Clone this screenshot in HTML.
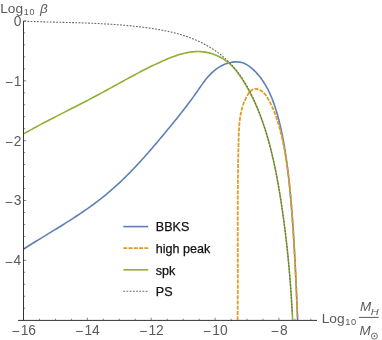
<!DOCTYPE html>
<html><head><meta charset="utf-8"><style>
html,body{margin:0;padding:0;background:#fff;}
svg{display:block;will-change:transform;opacity:0.999;}
text{font-family:"Liberation Sans",sans-serif;}
</style></head><body>
<svg width="382" height="340" viewBox="0 0 382 340">
<rect width="382" height="340" fill="#fff"/>
<g fill="none" stroke-linejoin="round">
<path d="M23.64,249.02 L25.22,248.02 L26.80,247.01 L28.39,246.02 L29.98,245.02 L31.57,244.03 L33.17,243.03 L34.77,242.04 L36.38,241.05 L37.98,240.07 L39.59,239.08 L41.20,238.09 L42.82,237.11 L44.43,236.12 L46.05,235.14 L47.66,234.15 L49.28,233.16 L50.90,232.17 L52.52,231.18 L54.14,230.19 L55.75,229.20 L57.37,228.21 L58.99,227.21 L60.60,226.21 L62.22,225.20 L63.83,224.20 L65.44,223.19 L67.05,222.18 L68.65,221.16 L70.25,220.14 L71.85,219.11 L73.45,218.08 L75.04,217.04 L76.63,216.00 L78.22,214.96 L79.80,213.90 L81.37,212.85 L82.94,211.78 L84.51,210.71 L86.07,209.63 L87.62,208.54 L89.17,207.45 L90.71,206.35 L92.25,205.24 L93.78,204.12 L95.30,203.00 L96.81,201.86 L98.32,200.72 L99.82,199.56 L101.31,198.40 L102.79,197.23 L104.26,196.04 L105.73,194.85 L107.18,193.65 L108.63,192.43 L110.06,191.21 L111.49,189.97 L112.91,188.73 L114.32,187.47 L115.73,186.21 L117.12,184.94 L118.51,183.66 L119.89,182.37 L121.26,181.07 L122.62,179.76 L123.98,178.45 L125.33,177.12 L126.67,175.79 L128.01,174.46 L129.34,173.11 L130.66,171.76 L131.98,170.40 L133.29,169.04 L134.59,167.67 L135.89,166.29 L137.18,164.91 L138.47,163.52 L139.75,162.13 L141.03,160.73 L142.30,159.33 L143.57,157.92 L144.83,156.51 L146.09,155.09 L147.34,153.67 L148.59,152.25 L149.83,150.82 L151.07,149.39 L152.31,147.95 L153.54,146.51 L154.77,145.07 L156.00,143.63 L157.22,142.18 L158.44,140.74 L159.66,139.29 L160.87,137.84 L162.09,136.38 L163.29,134.93 L164.50,133.48 L165.71,132.02 L166.91,130.56 L168.11,129.11 L169.31,127.65 L170.51,126.19 L171.70,124.73 L172.89,123.27 L174.08,121.81 L175.27,120.35 L176.45,118.88 L177.63,117.41 L178.81,115.93 L179.98,114.46 L181.15,112.98 L182.32,111.49 L183.48,110.01 L184.64,108.51 L185.79,107.01 L186.94,105.51 L188.08,104.00 L189.22,102.49 L190.35,100.97 L191.48,99.44 L192.60,97.90 L193.71,96.36 L194.82,94.81 L195.92,93.26 L197.02,91.69 L198.11,90.12 L199.20,88.54 L200.29,86.97 L201.39,85.40 L202.50,83.85 L203.63,82.30 L204.77,80.78 L205.95,79.28 L207.15,77.81 L208.39,76.38 L209.66,74.98 L210.98,73.62 L212.34,72.31 L213.75,71.05 L215.23,69.84 L216.76,68.70 L218.35,67.62 L220.00,66.61 L221.70,65.68 L223.45,64.83 L225.23,64.08 L227.04,63.42 L228.86,62.87 L230.70,62.43 L232.55,62.11 L234.39,61.92 L236.23,61.85 L238.04,61.93 L239.84,62.15 L241.60,62.53 L243.32,63.07 L244.99,63.76 L246.63,64.60 L248.21,65.56 L249.76,66.63 L251.25,67.81 L252.70,69.06 L254.10,70.38 L255.46,71.76 L256.77,73.16 L258.03,74.60 L259.25,76.07 L260.42,77.57 L261.55,79.09 L262.64,80.64 L263.69,82.21 L264.70,83.81 L265.67,85.43 L266.61,87.07 L267.51,88.73 L268.37,90.41 L269.21,92.11 L270.01,93.83 L270.78,95.56 L271.52,97.31 L272.24,99.07 L272.92,100.84 L273.58,102.63 L274.22,104.43 L274.83,106.23 L275.43,108.05 L276.00,109.87 L276.55,111.70 L277.08,113.53 L277.60,115.37 L278.10,117.21 L278.59,119.05 L279.06,120.90 L279.52,122.74 L279.97,124.59 L280.40,126.44 L280.83,128.29 L281.24,130.14 L281.64,131.99 L282.02,133.84 L282.40,135.70 L282.77,137.55 L283.12,139.41 L283.47,141.27 L283.80,143.13 L284.13,144.99 L284.44,146.85 L284.75,148.71 L285.05,150.57 L285.34,152.43 L285.63,154.30 L285.90,156.16 L286.17,158.03 L286.43,159.90 L286.69,161.77 L286.94,163.64 L287.18,165.51 L287.42,167.38 L287.65,169.25 L287.87,171.12 L288.10,173.00 L288.31,174.87 L288.53,176.75 L288.74,178.62 L288.94,180.50 L289.14,182.38 L289.34,184.26 L289.54,186.14 L289.73,188.02 L289.92,189.90 L290.10,191.78 L290.28,193.66 L290.46,195.54 L290.63,197.43 L290.81,199.31 L290.97,201.20 L291.14,203.08 L291.30,204.97 L291.46,206.85 L291.62,208.74 L291.77,210.63 L291.92,212.52 L292.07,214.40 L292.21,216.29 L292.35,218.18 L292.49,220.07 L292.63,221.96 L292.77,223.85 L292.90,225.74 L293.03,227.63 L293.16,229.52 L293.28,231.42 L293.41,233.31 L293.53,235.20 L293.65,237.09 L293.76,238.98 L293.88,240.88 L293.99,242.77 L294.10,244.66 L294.21,246.55 L294.32,248.45 L294.42,250.34 L294.53,252.23 L294.63,254.13 L294.73,256.02 L294.83,257.91 L294.93,259.81 L295.03,261.70 L295.12,263.59 L295.22,265.49 L295.31,267.38 L295.40,269.27 L295.49,271.16 L295.58,273.06 L295.67,274.95 L295.76,276.84 L295.85,278.73 L295.93,280.63 L296.02,282.52 L296.10,284.41 L296.19,286.30 L296.27,288.19 L296.35,290.08 L296.43,291.97 L296.52,293.86 L296.60,295.75 L296.68,297.64 L296.76,299.53 L296.84,301.41 L296.92,303.30 L297.00,305.19 L297.08,307.07 L297.16,308.96 L297.24,310.85 L297.32,312.73 L297.40,314.61 L297.49,316.50 L297.57,318.38 L297.65,320.26" stroke="#5E81B5" stroke-width="1.6"/>
<path d="M237.57,320.33 L237.58,319.37 L237.59,318.41 L237.60,317.46 L237.61,316.50 L237.62,315.54 L237.63,314.59 L237.64,313.63 L237.65,312.67 L237.66,311.72 L237.66,310.76 L237.67,309.81 L237.68,308.85 L237.69,307.90 L237.69,306.94 L237.70,305.99 L237.71,305.03 L237.71,304.08 L237.72,303.12 L237.72,302.17 L237.73,301.21 L237.73,300.26 L237.74,299.30 L237.74,298.35 L237.75,297.40 L237.75,296.44 L237.76,295.49 L237.76,294.53 L237.76,293.58 L237.77,292.63 L237.77,291.67 L237.77,290.72 L237.77,289.77 L237.78,288.81 L237.78,287.86 L237.78,286.91 L237.78,285.96 L237.78,285.00 L237.79,284.05 L237.79,283.10 L237.79,282.15 L237.79,281.19 L237.79,280.24 L237.79,279.29 L237.79,278.34 L237.79,277.38 L237.79,276.43 L237.79,275.48 L237.79,274.53 L237.79,273.58 L237.79,272.63 L237.79,271.67 L237.79,270.72 L237.79,269.77 L237.79,268.82 L237.79,267.87 L237.79,266.92 L237.79,265.97 L237.79,265.01 L237.79,264.06 L237.79,263.11 L237.78,262.16 L237.78,261.21 L237.78,260.26 L237.78,259.31 L237.78,258.36 L237.78,257.41 L237.78,256.46 L237.77,255.51 L237.77,254.55 L237.77,253.60 L237.77,252.65 L237.77,251.70 L237.77,250.75 L237.76,249.80 L237.76,248.85 L237.76,247.90 L237.76,246.95 L237.76,246.00 L237.76,245.05 L237.75,244.10 L237.75,243.15 L237.75,242.20 L237.75,241.25 L237.75,240.30 L237.75,239.35 L237.74,238.40 L237.74,237.45 L237.74,236.50 L237.74,235.55 L237.74,234.60 L237.74,233.65 L237.74,232.70 L237.74,231.75 L237.73,230.80 L237.73,229.85 L237.73,228.89 L237.73,227.94 L237.73,226.99 L237.73,226.04 L237.73,225.09 L237.73,224.14 L237.73,223.19 L237.73,222.24 L237.73,221.29 L237.73,220.34 L237.73,219.39 L237.73,218.44 L237.73,217.49 L237.73,216.54 L237.73,215.59 L237.73,214.64 L237.73,213.69 L237.74,212.74 L237.74,211.79 L237.74,210.84 L237.74,209.89 L237.74,208.94 L237.74,207.99 L237.75,207.03 L237.75,206.08 L237.75,205.13 L237.75,204.18 L237.76,203.23 L237.76,202.28 L237.76,201.33 L237.77,200.38 L237.77,199.43 L237.77,198.48 L237.78,197.52 L237.78,196.57 L237.79,195.62 L237.79,194.67 L237.80,193.72 L237.80,192.77 L237.81,191.82 L237.82,190.86 L237.82,189.91 L237.83,188.96 L237.84,188.01 L237.84,187.06 L237.85,186.10 L237.86,185.15 L237.87,184.20 L237.87,183.25 L237.88,182.29 L237.89,181.34 L237.90,180.39 L237.91,179.44 L237.92,178.48 L237.93,177.53 L237.94,176.58 L237.95,175.63 L237.96,174.67 L237.97,173.72 L237.98,172.77 L238.00,171.81 L238.01,170.86 L238.02,169.91 L238.04,168.95 L238.05,168.00 L238.06,167.04 L238.08,166.09 L238.09,165.14 L238.11,164.18 L238.12,163.23 L238.14,162.27 L238.15,161.32 L238.17,160.36 L238.19,159.41 L238.20,158.45 L238.22,157.50 L238.24,156.54 L238.26,155.59 L238.28,154.63 L238.30,153.68 L238.32,152.72 L238.34,151.76 L238.36,150.81 L238.38,149.85 L238.40,148.90 L238.42,147.94 L238.45,146.98 L238.47,146.03 L238.49,145.07 L238.52,144.11 L238.54,143.16 L238.56,142.20 L238.59,141.24 L238.62,140.28 L238.64,139.33 L238.67,138.37 L238.70,137.41 L238.73,136.45 L238.75,135.49 L238.79,134.54 L238.82,133.58 L238.86,132.62 L238.90,131.66 L238.94,130.71 L238.99,129.75 L239.04,128.80 L239.09,127.84 L239.15,126.89 L239.22,125.94 L239.29,124.99 L239.37,124.04 L239.46,123.09 L239.55,122.14 L239.65,121.20 L239.76,120.25 L239.87,119.31 L240.00,118.37 L240.13,117.43 L240.28,116.49 L240.43,115.56 L240.60,114.63 L240.77,113.70 L240.96,112.77 L241.16,111.85 L241.37,110.92 L241.59,110.00 L241.83,109.09 L242.08,108.17 L242.34,107.26 L242.62,106.36 L242.91,105.45 L243.22,104.55 L243.54,103.65 L243.88,102.76 L244.24,101.87 L244.61,100.98 L245.00,100.10 L245.40,99.22 L245.83,98.34 L246.27,97.47 L246.73,96.60 L247.21,95.74 L247.72,94.89 L248.24,94.06 L248.78,93.25 L249.35,92.48 L249.95,91.76 L250.58,91.10 L251.23,90.50 L251.91,89.97 L252.63,89.53 L253.38,89.19 L254.17,88.94 L254.99,88.81 L255.85,88.80 L256.74,88.91 L257.65,89.12 L258.56,89.43 L259.47,89.82 L260.34,90.28 L261.18,90.80 L261.98,91.36 L262.73,91.97 L263.45,92.62 L264.13,93.30 L264.77,94.02 L265.38,94.77 L265.97,95.55 L266.53,96.35 L267.06,97.17 L267.58,98.00 L268.08,98.85 L268.56,99.70 L269.03,100.56 L269.49,101.43 L269.94,102.29 L270.39,103.16 L270.82,104.03 L271.24,104.90 L271.66,105.78 L272.07,106.66 L272.46,107.54 L272.85,108.42 L273.24,109.30 L273.61,110.18 L273.98,111.07 L274.34,111.96 L274.69,112.85 L275.03,113.74 L275.37,114.64 L275.70,115.53 L276.02,116.43 L276.34,117.33 L276.65,118.23 L276.95,119.13 L277.25,120.04 L277.54,120.94 L277.82,121.85 L278.10,122.76 L278.38,123.67 L278.65,124.58 L278.91,125.49 L279.17,126.40 L279.42,127.32 L279.67,128.23 L279.91,129.15 L280.15,130.07 L280.39,130.99 L280.62,131.91 L280.85,132.83 L281.07,133.75 L281.29,134.67 L281.51,135.59 L281.72,136.52 L281.93,137.44 L282.14,138.37 L282.35,139.29 L282.55,140.22 L282.75,141.15 L282.95,142.07 L283.14,143.00 L283.33,143.93 L283.52,144.86 L283.71,145.79 L283.89,146.72 L284.07,147.65 L284.25,148.58 L284.43,149.52 L284.60,150.45 L284.77,151.38 L284.94,152.32 L285.11,153.25 L285.27,154.19 L285.44,155.12 L285.60,156.06 L285.75,156.99 L285.91,157.93 L286.06,158.87 L286.21,159.81 L286.36,160.75 L286.51,161.68 L286.65,162.62 L286.80,163.56 L286.94,164.50 L287.08,165.44 L287.21,166.38 L287.35,167.33 L287.48,168.27 L287.61,169.21 L287.74,170.15 L287.87,171.10 L287.99,172.04 L288.11,172.98 L288.24,173.93 L288.36,174.87 L288.47,175.82 L288.59,176.76 L288.70,177.71 L288.82,178.65 L288.93,179.60 L289.04,180.54 L289.15,181.49 L289.25,182.44 L289.36,183.38 L289.46,184.33 L289.56,185.28 L289.66,186.23 L289.76,187.18 L289.86,188.12 L289.96,189.07 L290.05,190.02 L290.14,190.97 L290.24,191.92 L290.33,192.87 L290.42,193.82 L290.50,194.77 L290.59,195.72 L290.68,196.67 L290.76,197.62 L290.85,198.57 L290.93,199.52 L291.01,200.47 L291.09,201.42 L291.17,202.37 L291.25,203.32 L291.32,204.28 L291.40,205.23 L291.48,206.18 L291.55,207.13 L291.62,208.08 L291.70,209.03 L291.77,209.99 L291.84,210.94 L291.91,211.89 L291.98,212.84 L292.05,213.79 L292.12,214.75 L292.18,215.70 L292.25,216.65 L292.32,217.60 L292.38,218.55 L292.45,219.51 L292.51,220.46 L292.58,221.41 L292.64,222.36 L292.70,223.31 L292.77,224.27 L292.83,225.22 L292.89,226.17 L292.95,227.12 L293.01,228.07 L293.07,229.02 L293.13,229.97 L293.19,230.93 L293.25,231.88 L293.31,232.83 L293.37,233.78 L293.43,234.73 L293.49,235.68 L293.55,236.63 L293.61,237.58 L293.66,238.53 L293.72,239.48 L293.78,240.43 L293.84,241.38 L293.89,242.33 L293.95,243.28 L294.01,244.23 L294.06,245.18 L294.12,246.13 L294.17,247.08 L294.23,248.03 L294.29,248.98 L294.34,249.93 L294.39,250.88 L294.45,251.83 L294.50,252.78 L294.56,253.73 L294.61,254.68 L294.66,255.63 L294.72,256.58 L294.77,257.53 L294.82,258.48 L294.87,259.43 L294.93,260.38 L294.98,261.33 L295.03,262.28 L295.08,263.22 L295.13,264.17 L295.18,265.12 L295.23,266.07 L295.28,267.02 L295.33,267.97 L295.38,268.92 L295.43,269.87 L295.48,270.82 L295.53,271.77 L295.58,272.72 L295.62,273.67 L295.67,274.62 L295.72,275.57 L295.77,276.52 L295.81,277.47 L295.86,278.42 L295.90,279.37 L295.95,280.32 L296.00,281.27 L296.04,282.22 L296.09,283.17 L296.13,284.12 L296.17,285.07 L296.22,286.02 L296.26,286.97 L296.30,287.93 L296.35,288.88 L296.39,289.83 L296.43,290.78 L296.47,291.73 L296.51,292.68 L296.56,293.63 L296.60,294.59 L296.64,295.54 L296.68,296.49 L296.72,297.44 L296.76,298.40 L296.80,299.35 L296.83,300.30 L296.87,301.25 L296.91,302.21 L296.95,303.16 L296.99,304.11 L297.02,305.07 L297.06,306.02 L297.10,306.98 L297.13,307.93 L297.17,308.88 L297.20,309.84 L297.24,310.79 L297.27,311.75 L297.31,312.70 L297.34,313.66 L297.37,314.61 L297.41,315.57 L297.44,316.53" stroke="#E19C24" stroke-width="1.8" stroke-dasharray="4.0,1.25"/>
<path d="M23.57,133.90 L24.99,133.09 L26.42,132.28 L27.86,131.48 L29.29,130.67 L30.74,129.87 L32.18,129.08 L33.63,128.29 L35.09,127.50 L36.54,126.71 L38.00,125.92 L39.47,125.14 L40.93,124.36 L42.40,123.58 L43.87,122.81 L45.35,122.03 L46.82,121.26 L48.30,120.49 L49.78,119.72 L51.26,118.96 L52.74,118.19 L54.23,117.43 L55.72,116.66 L57.20,115.90 L58.69,115.14 L60.18,114.38 L61.67,113.62 L63.16,112.86 L64.65,112.10 L66.15,111.34 L67.64,110.58 L69.13,109.82 L70.62,109.06 L72.11,108.30 L73.60,107.54 L75.09,106.78 L76.58,106.02 L78.07,105.26 L79.56,104.50 L81.05,103.74 L82.53,102.97 L84.02,102.21 L85.50,101.44 L86.98,100.67 L88.46,99.90 L89.94,99.13 L91.41,98.36 L92.88,97.58 L94.35,96.80 L95.82,96.02 L97.28,95.24 L98.74,94.46 L100.20,93.67 L101.66,92.88 L103.11,92.09 L104.56,91.30 L106.01,90.51 L107.46,89.72 L108.91,88.92 L110.35,88.13 L111.80,87.33 L113.24,86.53 L114.69,85.74 L116.13,84.94 L117.57,84.14 L119.02,83.35 L120.46,82.55 L121.91,81.76 L123.35,80.96 L124.80,80.17 L126.25,79.38 L127.69,78.59 L129.15,77.80 L130.60,77.01 L132.05,76.23 L133.51,75.45 L134.97,74.67 L136.44,73.89 L137.90,73.12 L139.37,72.35 L140.85,71.58 L142.32,70.82 L143.80,70.06 L145.29,69.30 L146.78,68.55 L148.27,67.81 L149.77,67.06 L151.28,66.32 L152.78,65.59 L154.30,64.86 L155.82,64.14 L157.35,63.42 L158.88,62.71 L160.42,62.01 L161.96,61.31 L163.52,60.62 L165.07,59.94 L166.64,59.27 L168.21,58.61 L169.78,57.98 L171.36,57.36 L172.94,56.76 L174.53,56.18 L176.12,55.63 L177.72,55.10 L179.31,54.60 L180.92,54.14 L182.52,53.70 L184.13,53.30 L185.74,52.94 L187.35,52.61 L188.96,52.32 L190.57,52.08 L192.19,51.88 L193.81,51.72 L195.42,51.62 L197.04,51.56 L198.66,51.56 L200.27,51.61 L201.89,51.72 L203.50,51.88 L205.11,52.11 L206.72,52.39 L208.33,52.73 L209.92,53.13 L211.51,53.59 L213.08,54.10 L214.64,54.67 L216.19,55.29 L217.71,55.96 L219.21,56.69 L220.69,57.46 L222.14,58.28 L223.56,59.16 L224.96,60.08 L226.32,61.04 L227.64,62.06 L228.93,63.11 L230.18,64.21 L231.39,65.36 L232.56,66.54 L233.70,67.76 L234.80,69.01 L235.86,70.29 L236.90,71.60 L237.91,72.94 L238.89,74.30 L239.85,75.67 L240.79,77.06 L241.71,78.47 L242.61,79.88 L243.50,81.30 L244.37,82.73 L245.23,84.16 L246.08,85.61 L246.91,87.05 L247.73,88.50 L248.53,89.96 L249.32,91.43 L250.10,92.90 L250.87,94.37 L251.62,95.85 L252.36,97.34 L253.09,98.83 L253.80,100.33 L254.50,101.83 L255.20,103.34 L255.87,104.85 L256.54,106.37 L257.20,107.89 L257.84,109.42 L258.47,110.95 L259.10,112.49 L259.71,114.03 L260.31,115.57 L260.90,117.12 L261.48,118.67 L262.05,120.23 L262.61,121.79 L263.16,123.36 L263.70,124.93 L264.23,126.50 L264.75,128.08 L265.26,129.65 L265.76,131.24 L266.25,132.82 L266.74,134.41 L267.21,136.01 L267.68,137.60 L268.14,139.20 L268.59,140.80 L269.03,142.41 L269.47,144.02 L269.89,145.63 L270.31,147.24 L270.72,148.85 L271.13,150.47 L271.53,152.09 L271.92,153.71 L272.30,155.33 L272.68,156.96 L273.05,158.58 L273.42,160.21 L273.78,161.84 L274.13,163.48 L274.48,165.11 L274.82,166.74 L275.15,168.38 L275.49,170.02 L275.81,171.66 L276.13,173.30 L276.45,174.94 L276.76,176.58 L277.07,178.22 L277.37,179.86 L277.67,181.50 L277.96,183.15 L278.25,184.79 L278.54,186.44 L278.82,188.08 L279.10,189.72 L279.38,191.37 L279.65,193.01 L279.92,194.66 L280.19,196.30 L280.46,197.95 L280.72,199.59 L280.97,201.23 L281.23,202.88 L281.48,204.52 L281.73,206.17 L281.98,207.81 L282.22,209.46 L282.46,211.10 L282.70,212.75 L282.93,214.39 L283.16,216.04 L283.39,217.68 L283.62,219.33 L283.84,220.97 L284.06,222.62 L284.28,224.26 L284.49,225.91 L284.70,227.55 L284.91,229.20 L285.12,230.85 L285.32,232.49 L285.52,234.14 L285.72,235.79 L285.92,237.43 L286.11,239.08 L286.30,240.73 L286.48,242.38 L286.67,244.03 L286.85,245.68 L287.03,247.32 L287.21,248.97 L287.38,250.62 L287.55,252.27 L287.72,253.92 L287.89,255.58 L288.06,257.23 L288.22,258.88 L288.38,260.53 L288.53,262.18 L288.69,263.84 L288.84,265.49 L288.99,267.14 L289.14,268.80 L289.28,270.45 L289.43,272.11 L289.57,273.76 L289.71,275.42 L289.84,277.08 L289.97,278.73 L290.11,280.39 L290.24,282.05 L290.36,283.71 L290.49,285.37 L290.61,287.03 L290.73,288.69 L290.85,290.35 L290.97,292.01 L291.08,293.67 L291.19,295.34 L291.30,297.00 L291.41,298.66 L291.52,300.33 L291.62,301.99 L291.72,303.66 L291.82,305.33 L291.92,307.00 L292.02,308.66 L292.11,310.33 L292.20,312.00 L292.29,313.67 L292.38,315.35 L292.47,317.02 L292.55,318.69 L292.64,320.37" stroke="#8FB032" stroke-width="1.6"/>
<path d="M24.17,21.18 L25.37,21.23 L26.58,21.28 L27.78,21.33 L28.99,21.37 L30.19,21.41 L31.39,21.46 L32.60,21.50 L33.80,21.54 L35.00,21.58 L36.20,21.62 L37.41,21.66 L38.61,21.69 L39.81,21.73 L41.01,21.77 L42.21,21.80 L43.41,21.84 L44.61,21.87 L45.81,21.90 L47.00,21.94 L48.20,21.97 L49.40,22.00 L50.60,22.03 L51.80,22.07 L52.99,22.10 L54.19,22.13 L55.39,22.16 L56.58,22.19 L57.78,22.22 L58.97,22.25 L60.17,22.28 L61.36,22.31 L62.56,22.34 L63.75,22.37 L64.95,22.41 L66.14,22.44 L67.33,22.47 L68.53,22.50 L69.72,22.53 L70.91,22.57 L72.11,22.60 L73.30,22.63 L74.49,22.67 L75.68,22.70 L76.88,22.74 L78.07,22.78 L79.26,22.81 L80.45,22.85 L81.64,22.89 L82.84,22.93 L84.03,22.97 L85.22,23.02 L86.41,23.06 L87.60,23.10 L88.79,23.15 L89.98,23.19 L91.17,23.24 L92.36,23.29 L93.55,23.34 L94.74,23.39 L95.93,23.45 L97.13,23.50 L98.32,23.56 L99.51,23.62 L100.70,23.68 L101.89,23.74 L103.08,23.80 L104.27,23.86 L105.46,23.93 L106.65,24.00 L107.84,24.07 L109.03,24.14 L110.22,24.22 L111.41,24.29 L112.60,24.37 L113.79,24.45 L114.98,24.53 L116.17,24.62 L117.36,24.70 L118.55,24.79 L119.74,24.89 L120.93,24.98 L122.13,25.08 L123.32,25.18 L124.51,25.28 L125.70,25.38 L126.89,25.49 L128.08,25.60 L129.27,25.71 L130.47,25.83 L131.66,25.94 L132.85,26.06 L134.04,26.19 L135.23,26.32 L136.43,26.44 L137.62,26.58 L138.81,26.71 L140.01,26.85 L141.20,27.00 L142.39,27.14 L143.59,27.29 L144.78,27.44 L145.98,27.60 L147.17,27.76 L148.36,27.92 L149.56,28.09 L150.75,28.26 L151.94,28.44 L153.13,28.62 L154.32,28.81 L155.51,29.00 L156.70,29.20 L157.89,29.40 L159.08,29.61 L160.26,29.82 L161.45,30.04 L162.63,30.26 L163.81,30.49 L164.99,30.73 L166.17,30.97 L167.34,31.22 L168.52,31.48 L169.69,31.74 L170.86,32.02 L172.03,32.29 L173.19,32.58 L174.36,32.87 L175.52,33.17 L176.67,33.48 L177.83,33.79 L178.98,34.12 L180.13,34.45 L181.28,34.79 L182.42,35.14 L183.56,35.50 L184.70,35.87 L185.83,36.24 L186.96,36.63 L188.09,37.02 L189.21,37.43 L190.33,37.84 L191.44,38.26 L192.55,38.70 L193.66,39.14 L194.76,39.60 L195.86,40.06 L196.95,40.54 L198.04,41.02 L199.13,41.52 L200.21,42.03 L201.28,42.55 L202.35,43.08 L203.42,43.62 L204.47,44.17 L205.53,44.74 L206.57,45.31 L207.61,45.90 L208.65,46.50 L209.67,47.11 L210.69,47.73 L211.71,48.36 L212.71,49.00 L213.71,49.65 L214.70,50.32 L215.68,51.00 L216.66,51.68 L217.62,52.38 L218.58,53.09 L219.53,53.82 L220.47,54.55 L221.40,55.30 L222.32,56.05 L223.23,56.82 L224.13,57.60 L225.02,58.39 L225.90,59.20 L226.77,60.01 L227.63,60.83 L228.48,61.66 L229.32,62.51 L230.15,63.36 L230.98,64.22 L231.79,65.10 L232.59,65.98 L233.38,66.87 L234.16,67.77 L234.93,68.68 L235.69,69.60 L236.44,70.52 L237.18,71.46 L237.91,72.40 L238.63,73.35 L239.34,74.30 L240.04,75.27 L240.73,76.24 L241.41,77.22 L242.08,78.20 L242.74,79.20 L243.39,80.20 L244.03,81.20 L244.66,82.21 L245.28,83.23 L245.90,84.26 L246.50,85.29 L247.10,86.32 L247.69,87.36 L248.27,88.41 L248.84,89.46 L249.40,90.52 L249.96,91.58 L250.51,92.65 L251.05,93.72 L251.58,94.80 L252.11,95.88 L252.62,96.96 L253.13,98.05 L253.64,99.14 L254.14,100.24 L254.63,101.33 L255.11,102.44 L255.59,103.54 L256.06,104.65 L256.52,105.76 L256.98,106.87 L257.44,107.99 L257.88,109.11 L258.33,110.23 L258.76,111.35 L259.19,112.48 L259.62,113.60 L260.04,114.73 L260.46,115.86 L260.87,116.99 L261.28,118.12 L261.68,119.26 L262.08,120.39 L262.47,121.53 L262.86,122.66 L263.24,123.80 L263.62,124.94 L264.00,126.08 L264.37,127.22 L264.74,128.36 L265.10,129.50 L265.46,130.64 L265.82,131.79 L266.17,132.93 L266.52,134.08 L266.86,135.22 L267.20,136.37 L267.53,137.52 L267.86,138.67 L268.19,139.82 L268.51,140.97 L268.83,142.12 L269.15,143.28 L269.46,144.43 L269.77,145.58 L270.08,146.74 L270.38,147.89 L270.68,149.05 L270.97,150.21 L271.26,151.37 L271.55,152.53 L271.84,153.69 L272.12,154.85 L272.39,156.01 L272.67,157.17 L272.94,158.33 L273.21,159.50 L273.47,160.66 L273.74,161.83 L274.00,162.99 L274.25,164.16 L274.50,165.33 L274.75,166.49 L275.00,167.66 L275.25,168.83 L275.49,170.00 L275.73,171.17 L275.96,172.34 L276.20,173.51 L276.43,174.68 L276.66,175.86 L276.88,177.03 L277.10,178.20 L277.33,179.38 L277.54,180.55 L277.76,181.73 L277.97,182.90 L278.18,184.08 L278.39,185.26 L278.60,186.43 L278.80,187.61 L279.01,188.79 L279.21,189.97 L279.40,191.15 L279.60,192.33 L279.79,193.50 L279.99,194.68 L280.18,195.87 L280.37,197.05 L280.55,198.23 L280.74,199.41 L280.92,200.59 L281.10,201.77 L281.28,202.96 L281.46,204.14 L281.63,205.32 L281.81,206.51 L281.98,207.69 L282.15,208.87 L282.32,210.06 L282.49,211.24 L282.66,212.43 L282.83,213.61 L282.99,214.80 L283.15,215.99 L283.32,217.17 L283.48,218.36 L283.64,219.54 L283.79,220.73 L283.95,221.92 L284.11,223.10 L284.26,224.29 L284.42,225.48 L284.57,226.67 L284.72,227.85 L284.87,229.04 L285.02,230.23 L285.16,231.42 L285.31,232.61 L285.45,233.80 L285.60,234.99 L285.74,236.17 L285.88,237.36 L286.02,238.55 L286.16,239.74 L286.29,240.93 L286.43,242.12 L286.56,243.31 L286.70,244.50 L286.83,245.69 L286.96,246.88 L287.09,248.07 L287.22,249.26 L287.35,250.45 L287.47,251.65 L287.60,252.84 L287.72,254.03 L287.84,255.22 L287.96,256.41 L288.08,257.60 L288.20,258.79 L288.32,259.99 L288.43,261.18 L288.54,262.37 L288.66,263.56 L288.77,264.75 L288.88,265.95 L288.99,267.14 L289.10,268.33 L289.20,269.52 L289.31,270.71 L289.41,271.91 L289.52,273.10 L289.62,274.29 L289.72,275.48 L289.82,276.68 L289.92,277.87 L290.01,279.06 L290.11,280.26 L290.20,281.45 L290.30,282.64 L290.39,283.83 L290.48,285.03 L290.57,286.22 L290.66,287.41 L290.74,288.61 L290.83,289.80 L290.91,290.99 L291.00,292.19 L291.08,293.38 L291.16,294.57 L291.24,295.77 L291.31,296.96 L291.39,298.15 L291.47,299.34 L291.54,300.54 L291.61,301.73 L291.69,302.92 L291.76,304.12 L291.83,305.31 L291.89,306.50 L291.96,307.70 L292.03,308.89 L292.09,310.08 L292.15,311.27 L292.21,312.47 L292.27,313.66" stroke="#686868" stroke-width="1.1" stroke-dasharray="1.8,1.4"/>
</g>
<g stroke="#333333" stroke-width="1" fill="none">
<line x1="18" y1="320.4" x2="317" y2="320.4"/>
<line x1="23.5" y1="20.95" x2="23.5" y2="320.4"/>
</g>
<g stroke="#333333" stroke-width="0.6" fill="none">
<line x1="23.50" y1="320.40" x2="23.50" y2="317.70"/>
<line x1="39.47" y1="320.40" x2="39.47" y2="318.70"/>
<line x1="55.43" y1="320.40" x2="55.43" y2="318.70"/>
<line x1="71.39" y1="320.40" x2="71.39" y2="318.70"/>
<line x1="87.36" y1="320.40" x2="87.36" y2="317.70"/>
<line x1="103.33" y1="320.40" x2="103.33" y2="318.70"/>
<line x1="119.29" y1="320.40" x2="119.29" y2="318.70"/>
<line x1="135.25" y1="320.40" x2="135.25" y2="318.70"/>
<line x1="151.22" y1="320.40" x2="151.22" y2="317.70"/>
<line x1="167.19" y1="320.40" x2="167.19" y2="318.70"/>
<line x1="183.15" y1="320.40" x2="183.15" y2="318.70"/>
<line x1="199.12" y1="320.40" x2="199.12" y2="318.70"/>
<line x1="215.08" y1="320.40" x2="215.08" y2="317.70"/>
<line x1="231.04" y1="320.40" x2="231.04" y2="318.70"/>
<line x1="247.01" y1="320.40" x2="247.01" y2="318.70"/>
<line x1="262.98" y1="320.40" x2="262.98" y2="318.70"/>
<line x1="278.94" y1="320.40" x2="278.94" y2="317.70"/>
<line x1="294.90" y1="320.40" x2="294.90" y2="318.70"/>
<line x1="310.87" y1="320.40" x2="310.87" y2="318.70"/>
<line x1="23.50" y1="20.95" x2="26.20" y2="20.95"/>
<line x1="23.50" y1="32.92" x2="25.20" y2="32.92"/>
<line x1="23.50" y1="44.89" x2="25.20" y2="44.89"/>
<line x1="23.50" y1="56.86" x2="25.20" y2="56.86"/>
<line x1="23.50" y1="68.83" x2="25.20" y2="68.83"/>
<line x1="23.50" y1="80.80" x2="26.20" y2="80.80"/>
<line x1="23.50" y1="92.77" x2="25.20" y2="92.77"/>
<line x1="23.50" y1="104.74" x2="25.20" y2="104.74"/>
<line x1="23.50" y1="116.71" x2="25.20" y2="116.71"/>
<line x1="23.50" y1="128.68" x2="25.20" y2="128.68"/>
<line x1="23.50" y1="140.65" x2="26.20" y2="140.65"/>
<line x1="23.50" y1="152.62" x2="25.20" y2="152.62"/>
<line x1="23.50" y1="164.59" x2="25.20" y2="164.59"/>
<line x1="23.50" y1="176.56" x2="25.20" y2="176.56"/>
<line x1="23.50" y1="188.53" x2="25.20" y2="188.53"/>
<line x1="23.50" y1="200.50" x2="26.20" y2="200.50"/>
<line x1="23.50" y1="212.47" x2="25.20" y2="212.47"/>
<line x1="23.50" y1="224.44" x2="25.20" y2="224.44"/>
<line x1="23.50" y1="236.41" x2="25.20" y2="236.41"/>
<line x1="23.50" y1="248.38" x2="25.20" y2="248.38"/>
<line x1="23.50" y1="260.35" x2="26.20" y2="260.35"/>
<line x1="23.50" y1="272.32" x2="25.20" y2="272.32"/>
<line x1="23.50" y1="284.29" x2="25.20" y2="284.29"/>
<line x1="23.50" y1="296.26" x2="25.20" y2="296.26"/>
<line x1="23.50" y1="308.23" x2="25.20" y2="308.23"/>
</g>
<g fill="#5a5a5a" font-size="13.80">
<text x="11.51" y="335.00"><tspan dy="0.90">−</tspan><tspan dx="1.10" dy="-0.90">16</tspan></text>
<text x="75.27" y="335.00"><tspan dy="0.90">−</tspan><tspan dx="1.10" dy="-0.90">14</tspan></text>
<text x="139.27" y="335.00"><tspan dy="0.90">−</tspan><tspan dx="1.10" dy="-0.90">12</tspan></text>
<text x="203.05" y="335.00"><tspan dy="0.90">−</tspan><tspan dx="1.10" dy="-0.90">10</tspan></text>
<text x="270.78" y="335.00"><tspan dy="0.90">−</tspan><tspan dx="1.10" dy="-0.90">8</tspan></text>
<text x="13.66" y="25.85">0</text>
<text x="4.94" y="85.70"><tspan dy="1.30">−</tspan><tspan dx="0.80" dy="-1.30">1</tspan></text>
<text x="4.96" y="145.55"><tspan dy="1.30">−</tspan><tspan dx="0.80" dy="-1.30">2</tspan></text>
<text x="4.87" y="205.40"><tspan dy="1.30">−</tspan><tspan dx="0.80" dy="-1.30">3</tspan></text>
<text x="4.67" y="265.25"><tspan dy="1.30">−</tspan><tspan dx="0.80" dy="-1.30">4</tspan></text>
</g>
<g fill="#5a5a5a">
<text transform="translate(0.17 12.90) scale(1.0403 1)" font-size="13.20">Log</text>
<text transform="translate(23.82 15.10) scale(0.9072 1)" font-size="9.80" letter-spacing="0.70">10</text>
<text transform="translate(39.93 12.90) scale(0.9911 1)" font-size="13.60" font-style="italic">β</text>
<text transform="translate(321.67 322.80) scale(1.0403 1)" font-size="13.20">Log</text>
<text transform="translate(345.19 325.00) scale(0.9454 1)" font-size="9.80" letter-spacing="0.70">10</text>
<text transform="translate(359.99 311.40) scale(1.0770 1)" font-size="12.50" font-style="italic">M</text>
<text transform="translate(370.66 314.70) scale(1.1201 1)" font-size="9.80" font-style="italic">H</text>
<text transform="translate(359.39 335.00) scale(1.0770 1)" font-size="12.50" font-style="italic">M</text>
<circle cx="374.4" cy="336.1" r="3.0" fill="none" stroke="#5a5a5a" stroke-width="0.85"/>
<circle cx="374.4" cy="336.1" r="0.9"/>
</g>
<line x1="358.9" y1="317.4" x2="378.7" y2="317.4" stroke="#5a5a5a" stroke-width="1"/>
<g fill="none">
<line x1="123.3" y1="226.6" x2="148.2" y2="226.6" stroke="#5E81B5" stroke-width="1.6"/>
<line x1="123.3" y1="248.2" x2="148.2" y2="248.2" stroke="#E19C24" stroke-width="1.8" stroke-dasharray="4.0,1.25"/>
<line x1="123.3" y1="269.8" x2="148.2" y2="269.8" stroke="#8FB032" stroke-width="1.6"/>
<line x1="123.3" y1="291.2" x2="148.2" y2="291.2" stroke="#686868" stroke-width="1.1" stroke-dasharray="1.8,1.4"/>
</g>
<g fill="#111" stroke="#111" stroke-width="0.25" font-size="12.55">
<text x="155.8" y="231.4">BBKS</text>
<text x="155.8" y="252.8">high peak</text>
<text x="155.8" y="274.6">spk</text>
<text x="155.8" y="296.1">PS</text>
</g>
</svg>
</body></html>
